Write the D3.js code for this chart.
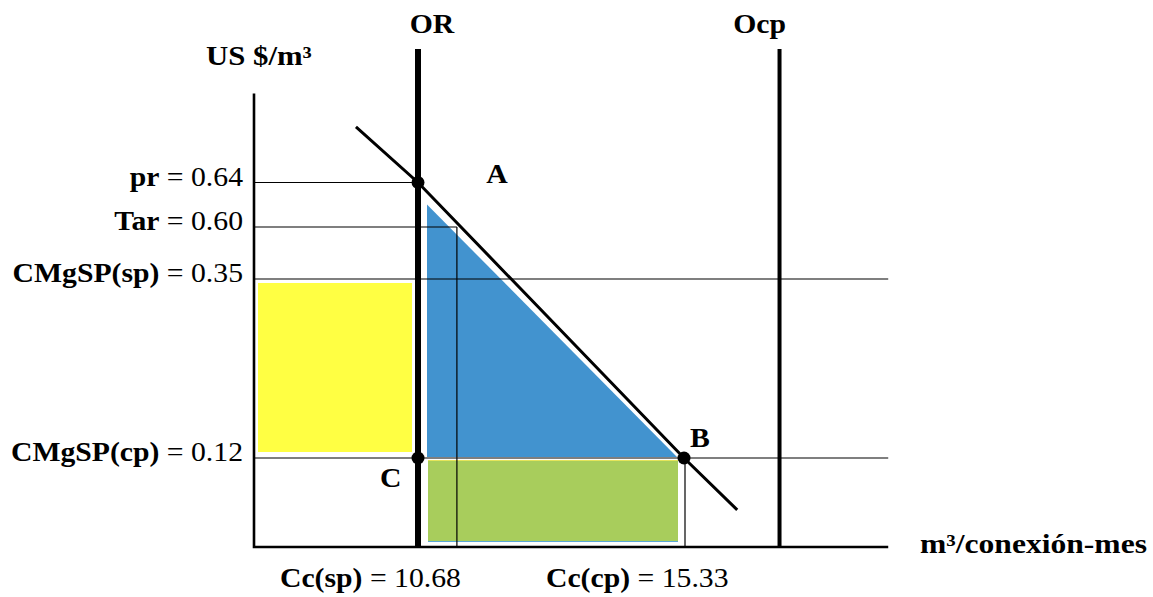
<!DOCTYPE html>
<html>
<head>
<meta charset="utf-8">
<script src="https://cdn.jsdelivr.net/npm/d3@7"></script>
<style>
  body { margin: 0; background: #fff; }
  svg text { font-family: "Liberation Serif", "Times New Roman", serif; font-size: 27px; fill: #000; }
</style>
</head>
<body>
<div id="chart"></div>
<script>
// niveles de precio (US $/m3) y de consumo (m3/conexión-mes)
const priceLevels = [
  { name: "pr", value: 0.64 },
  { name: "Tar", value: 0.60 },
  { name: "CMgSP(sp)", value: 0.35 },
  { name: "CMgSP(cp)", value: 0.12 }
];
const quantityLevels = [
  { name: "Cc(sp)", value: 10.68 },
  { name: "Cc(cp)", value: 15.33 }
];
// curva de demanda (q, p)
const demandCurve = [[6.64, 0.69], [10.68, 0.64], [15.33, 0.12], [16.26, 0.05]];
const keyPoints = [
  { label: "A", q: 10.68, p: 0.64 },
  { label: "C", q: 10.68, p: 0.12 },
  { label: "B", q: 15.33, p: 0.12 }
];
const capacityLines = [
  { label: "OR", q: 10.68 },
  { label: "Ocp", q: 17.0 }
];
const qTar = 11.36;     // consumo a la tarifa
const qMax = 18.9, pMax = 0.72, pCap = 0.76;

const width = 1153, height = 597;
const sx = 1.1; // ancho de la fuente

const x = d3.scaleLinear()
  .domain([0, ...quantityLevels.map(d => d.value)])
  .range([254, 418, 684]);
const y = d3.scaleLinear()
  .domain([0, ...priceLevels.map(d => d.value).reverse()])
  .range([547, 458, 279, 227, 182.5]);

const svg = d3.select("#chart").append("svg")
  .attr("width", width).attr("height", height);

const pMid = priceLevels.find(d => d.name === "CMgSP(sp)").value;
const pLow = priceLevels.find(d => d.name === "CMgSP(cp)").value;
const pHigh = priceLevels.find(d => d.name === "pr").value;
const pTar = priceLevels.find(d => d.name === "Tar").value;
const q1 = quantityLevels[0].value, q2 = quantityLevels[1].value;

// áreas
svg.append("rect")
  .attr("x", x(0) + 4).attr("y", y(pMid) + 4)
  .attr("width", x(q1) - 6 - x(0) - 4)
  .attr("height", y(pLow) - 6 - y(pMid) - 4)
  .attr("fill", "#ffff43");

svg.append("path")
  .attr("d", d3.line()([
    [x(q1) + 9, y(pHigh) + 22],
    [x(q1) + 9, y(pLow) - 1],
    [x(q2) - 7, y(pLow) - 1]
  ]) + "Z")
  .attr("fill", "#4293cf");

svg.append("rect")
  .attr("x", x(q1) + 10).attr("y", y(pLow) + 2)
  .attr("width", x(q2) - 6 - x(q1) - 10)
  .attr("height", y(0) - 5 - y(pLow) - 2)
  .attr("fill", "#a8cd5c");
svg.append("line")
  .attr("x1", x(q1) + 10).attr("x2", x(q2) - 6)
  .attr("y1", y(0) - 5.5).attr("y2", y(0) - 5.5)
  .attr("stroke", "#5aa8d8").attr("stroke-width", 1);
svg.append("line")
  .attr("x1", x(q1) + 10).attr("x2", x(q2) - 6)
  .attr("y1", y(pLow) + 2.5).attr("y2", y(pLow) + 2.5)
  .attr("stroke", "#e4e45a").attr("stroke-width", 1);

// líneas finas
const thin = svg.append("g").attr("stroke", "#000").attr("stroke-width", 1.2);
thin.append("line").attr("x1", x(0)).attr("x2", x(q1)).attr("y1", y(pHigh)).attr("y2", y(pHigh));
thin.append("line").attr("x1", x(0)).attr("x2", x(qTar)).attr("y1", y(pTar)).attr("y2", y(pTar));
thin.append("line").attr("x1", x(qTar)).attr("x2", x(qTar)).attr("y1", y(pTar)).attr("y2", y(0));
[pMid, pLow].forEach(p => {
  thin.append("line").attr("x1", x(0)).attr("x2", x(qMax)).attr("y1", y(p)).attr("y2", y(p));
});
thin.append("line").attr("x1", x(q2) + 1).attr("x2", x(q2) + 1).attr("y1", y(pLow)).attr("y2", y(0));

// ejes
svg.append("path")
  .attr("d", d3.line()([[x(0), y(pMax)], [x(0), y(0)], [x(qMax), y(0)]]))
  .attr("fill", "none").attr("stroke", "#000").attr("stroke-width", 2.6);

// OR y Ocp
svg.selectAll(".cap").data(capacityLines).join("line")
  .attr("x1", d => x(d.q)).attr("x2", d => x(d.q))
  .attr("y1", y(pCap)).attr("y2", y(0))
  .attr("stroke", "#000")
  .attr("stroke-width", (d, i) => i === 0 ? 6 : 4);

// demanda
svg.append("path")
  .attr("d", d3.line().x(d => x(d[0])).y(d => y(d[1]))(demandCurve))
  .attr("fill", "none").attr("stroke", "#000").attr("stroke-width", 3);

svg.selectAll(".pt").data(keyPoints).join("circle")
  .attr("cx", d => x(d.q)).attr("cy", d => y(d.p)).attr("r", 6.5)
  .attr("fill", "#000");

// textos
function label(px, py, anchor, parts, kx = sx) {
  const t = svg.append("text")
    .attr("transform", `translate(${px},${py}) scale(${kx},1)`)
    .attr("text-anchor", anchor);
  parts.forEach(([s, bold]) => t.append("tspan").attr("font-weight", bold ? "bold" : "normal").text(s));
  return t;
}

priceLevels.forEach(d => {
  label(243, y(d.value) + 3, "end", [[d.name, true], [" = " + d.value.toFixed(2), false]]);
});

const qLabelX = [280, 546];
quantityLevels.forEach((d, i) => {
  label(qLabelX[i], 587, "start", [[d.name, true], [" = " + d.value.toFixed(2), false]]);
});

label(x(capacityLines[0].q) + 14, 33, "middle", [[capacityLines[0].label, true]]);
label(x(capacityLines[1].q) - 20, 33, "middle", [[capacityLines[1].label, true]]);

label(206, 65, "start", [["US $/m³", true]], 1.14);
label(920, 553, "start", [["m³/conexión-mes", true]], 1.17);

label(x(keyPoints[0].q) + 79, y(keyPoints[0].p), "middle", [["A", true]]);
label(x(keyPoints[1].q) - 38, y(keyPoints[1].p) + 29, "start", [["C", true]]);
label(x(keyPoints[2].q) + 6, y(keyPoints[2].p) - 11, "start", [["B", true]]);
</script>
</body>
</html>
